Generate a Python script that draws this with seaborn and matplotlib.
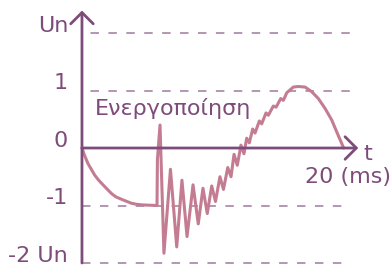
import matplotlib
matplotlib.use("Agg")
import matplotlib.pyplot as plt
import seaborn as sns
import pandas as pd

# waveform: time in ms, voltage in units of Un
t_ms = [0.0, 0.2, 0.46, 0.97, 1.28, 1.61, 2.25, 2.6, 3.01, 3.78, 4.2, 4.67, 5.75,
        5.78, 5.98, 6.28, 6.78, 7.26, 7.66, 8.05, 8.51, 8.91, 9.27, 9.60,
        9.94, 10.23, 10.57, 10.84, 11.17, 11.42, 11.65, 11.90, 12.18, 12.41,
        12.62, 12.82, 13.08, 13.26, 13.59, 13.77, 14.10, 14.28, 14.66, 14.87,
        15.23, 15.43, 15.69, 15.94, 16.19, 16.58, 17.09, 17.60, 18.11, 18.62,
        19.13, 19.52, 19.90, 20.05]
u_val = [0.0, -0.13, -0.27, -0.47, -0.56, -0.64, -0.79, -0.85, -0.89, -0.96, -0.98, -0.99, -1.0,
         -0.20, 0.40, -1.83, -0.37, -1.72, -0.56, -1.54, -0.64, -1.32, -0.70, -1.14,
         -0.66, -0.93, -0.50, -0.72, -0.34, -0.50, -0.11, -0.30, 0.05, -0.10,
         0.17, 0.09, 0.33, 0.26, 0.47, 0.42, 0.61, 0.57, 0.73, 0.71,
         0.86, 0.83, 0.96, 1.01, 1.06, 1.07, 1.06, 0.98, 0.86, 0.69,
         0.49, 0.28, 0.08, 0.0]

grid_levels = [2, 1, -1, -2]
level_values = [2, 1, 0, -1, -2]
level_labels = ["Un", "1", "0", "-1", "-2 Un"]

PURPLE = "#7d4c7b"
PINK = "#c47c92"
DASH = "#a584a5"

sns.set_style("white")
plt.rcParams["font.family"] = ["DejaVu Sans"]
plt.rcParams["lines.scale_dashes"] = False

fig = plt.figure(figsize=(3.9, 2.66), dpi=100)
ax = fig.add_axes([0, 0, 1, 1])
ax.set_xlim(-6.28, 23.6)
ax.set_ylim(-2.052, 2.574)
ax.axis("off")

for lv in grid_levels:
    off = 6.8 if lv > 0 else 0
    ax.plot([0, 20.5], [lv, lv], color=DASH, lw=1.2,
            linestyle=(off, (6.1, 6.8)))

df = pd.DataFrame({"t": t_ms, "u": u_val})
sns.lineplot(data=df, x="t", y="u", sort=False, estimator=None,
             color=PINK, lw=2.2, ax=ax, zorder=3)

arrow = dict(arrowstyle="->,head_length=0.45,head_width=0.45", color=PURPLE,
             lw=2.0, shrinkA=0, shrinkB=0, mutation_scale=18)
ax.annotate("", xy=(0, 2.39), xytext=(0, -2.0), arrowprops=arrow, zorder=4)
ax.annotate("", xy=(21.17, 0), xytext=(0, 0), arrowprops=arrow, zorder=4)

for v, lab in zip(level_values, level_labels):
    ax.text(-1.07, v + 0.02, lab, ha="right", va="baseline",
            color=PURPLE, fontsize=16)

ax.text(1.0, 0.57, "Ενεργοποίηση", ha="left", va="baseline",
        color=PURPLE, fontsize=16)
ax.text(21.9, -0.21, "t", ha="center", va="baseline", color=PURPLE, fontsize=16)
ax.text(20.4, -0.61, "20 (ms)", ha="center", va="baseline",
        color=PURPLE, fontsize=16)

fig.savefig("out.png", dpi=100)
